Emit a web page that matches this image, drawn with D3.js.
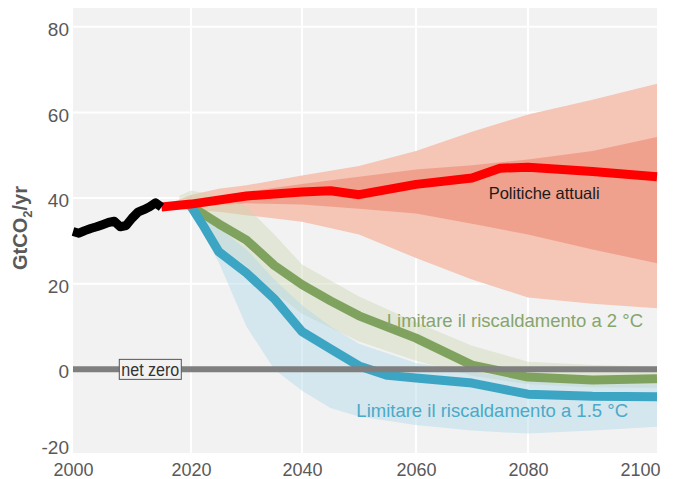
<!DOCTYPE html>
<html>
<head>
<meta charset="utf-8">
<script src="https://cdn.jsdelivr.net/npm/d3@7"></script>
<style>
  body { margin: 0; background: #fff; }
  svg { font-family: "Liberation Sans", Arial, sans-serif; }
</style>
</head>
<body>
<svg id="svg" width="680" height="479"></svg>
<script>
// Emissions pathways (GtCO2/yr)

// historical emissions
var histYears = [2000, 2001, 2002, 2003, 2004, 2005, 2006, 2007, 2008, 2009, 2010, 2011, 2012, 2013, 2014, 2015];
var histValues = [32.2, 31.8, 32.4, 32.9, 33.3, 33.8, 34.3, 34.6, 33.3, 33.6, 35.3, 36.7, 37.3, 38.0, 38.9, 37.9];

// current policies
var policyYears = [2015, 2020, 2030, 2040, 2045, 2050, 2060, 2070, 2075, 2080, 2090, 2100];
var policyValues = [37.9, 38.6, 40.5, 41.4, 41.7, 40.8, 43.2, 44.7, 47.0, 47.2, 46.2, 45.0];

var policyBandYears = [2015, 2020, 2025, 2030, 2040, 2050, 2060, 2070, 2080, 2090, 2100];
var policyOuterHigh = [38.0, 40.7, 42.2, 43.0, 45.3, 47.5, 51.0, 55.5, 59.5, 63.0, 66.7];
var policyOuterLow = [37.8, 37.2, 36.8, 36.0, 34.5, 31.5, 26.0, 21.0, 16.8, 15.3, 14.3];
var policyInnerHigh = [38.0, 39.5, 40.3, 41.5, 43.3, 45.0, 46.7, 47.7, 49.0, 51.0, 54.3];
var policyInnerLow = [37.8, 38.0, 38.3, 38.8, 38.5, 37.5, 36.4, 34.0, 31.5, 28.0, 24.8];

// 2 °C pathway
var twoYears = [2020, 2025, 2030, 2035, 2040, 2045, 2050, 2060, 2070, 2080, 2090, 2100];
var twoValues = [38.1, 34.0, 30.2, 24.3, 19.8, 16.0, 12.5, 7.3, 1.0, -1.8, -2.5, -2.2];
var twoBandYears = [2018, 2020, 2025, 2030, 2035, 2040, 2050, 2060, 2070, 2080, 2090, 2100];
var twoHigh = [40.5, 41.8, 40.5, 38.0, 31.5, 24.5, 17.0, 11.0, 5.5, 1.8, 1.0, 0.6];
var twoLow = [39.0, 36.5, 29.0, 24.0, 18.0, 13.0, 6.5, 2.0, -1.5, -3.5, -4.2, -4.3];

// 1.5 °C pathway
var oneFiveYears = [2020, 2022, 2025, 2030, 2035, 2040, 2045, 2050, 2055, 2060, 2070, 2075, 2080, 2090, 2100];
var oneFiveValues = [38.1, 34.0, 27.5, 22.5, 16.5, 8.8, 4.8, 0.8, -1.4, -2.0, -3.2, -4.5, -5.8, -6.3, -6.4];
var oneFiveBandYears = [2018, 2020, 2025, 2030, 2035, 2040, 2045, 2050, 2060, 2070, 2080, 2090, 2100];
var oneFiveHigh = [39.0, 39.5, 33.0, 28.0, 21.0, 15.0, 10.0, 6.0, 1.5, -0.5, -2.5, -3.5, -3.5];
var oneFiveLow = [38.0, 37.0, 25.0, 10.0, 0.0, -5.0, -9.0, -11.0, -13.0, -14.3, -15.0, -14.3, -13.4];

var xTicks = [2000, 2020, 2040, 2060, 2080, 2100];
var yTicks = [-20, 0, 20, 40, 60, 80];

var svg = d3.select("svg");

// panel bounds
var plotLeft = 73, plotRight = 657, plotTop = 8, plotBottom = 453;

// the source picture has slightly uneven year spacing, so use a piecewise scale
var x = d3.scaleLinear()
    .domain(xTicks)
    .range([73, 191, 302, 416, 528, 657]);

var y = d3.scaleLinear()
    .domain([-20, 84.4])
    .range([455, plotTop]);

function zip(xs, ys) {
    return xs.map(function (d, i) { return [d, ys[i]]; });
}
function band(xs, hi, lo) {
    return xs.map(function (d, i) { return [d, hi[i], lo[i]]; });
}

var line = d3.line()
    .x(function (d) { return x(d[0]); })
    .y(function (d) { return y(d[1]); });

var area = d3.area()
    .x(function (d) { return x(d[0]); })
    .y0(function (d) { return y(d[2]); })
    .y1(function (d) { return y(d[1]); });

// background + grid
svg.append("rect")
    .attr("x", plotLeft).attr("y", plotTop)
    .attr("width", plotRight - plotLeft).attr("height", plotBottom - plotTop)
    .attr("fill", "#f2f2f2");

var grid = svg.append("g");
grid.selectAll(".gx").data([2020, 2040, 2060, 2080]).enter().append("line")
    .attr("x1", function (d) { return x(d); }).attr("x2", function (d) { return x(d); })
    .attr("y1", plotTop).attr("y2", plotBottom)
    .attr("stroke", "#fff").attr("stroke-width", 2);
grid.selectAll(".gy").data([20, 40, 60, 80]).enter().append("line")
    .attr("x1", plotLeft).attr("x2", plotRight)
    .attr("y1", function (d) { return y(d); }).attr("y2", function (d) { return y(d); })
    .attr("stroke", "#fff").attr("stroke-width", 2);

// ranges
svg.append("path").datum(band(policyBandYears, policyOuterHigh, policyOuterLow))
    .attr("d", area).attr("fill", "#f5c5b6");
svg.append("path").datum(band(policyBandYears, policyInnerHigh, policyInnerLow))
    .attr("d", area).attr("fill", "#f0a18d");
svg.append("path").datum(band(twoBandYears, twoHigh, twoLow))
    .attr("d", area).attr("fill", "rgb(205,214,180)").attr("fill-opacity", 0.45);
svg.append("path").datum(band(oneFiveBandYears, oneFiveHigh, oneFiveLow))
    .attr("d", area).attr("fill", "rgb(175,215,232)").attr("fill-opacity", 0.45);

// pathway lines
function drawLine(data, colour) {
    svg.append("path").datum(data)
        .attr("d", line)
        .attr("fill", "none")
        .attr("stroke", colour)
        .attr("stroke-width", 9)
        .attr("stroke-linejoin", "round");
}
drawLine(zip(twoYears, twoValues), "#7fa35f");
drawLine(zip(oneFiveYears, oneFiveValues), "#3ca5c3");
drawLine(zip(policyYears, policyValues), "#ff0000");
drawLine(zip(histYears, histValues), "#000000");

// net zero
svg.append("line")
    .attr("x1", plotLeft).attr("x2", plotRight)
    .attr("y1", y(0)).attr("y2", y(0))
    .attr("stroke", "#7f7f7f").attr("stroke-width", 6);

var nz = svg.append("g").attr("transform", "translate(" + x(2013.1) + "," + y(0) + ")");
nz.append("rect")
    .attr("x", -31).attr("y", -10).attr("width", 62).attr("height", 20)
    .attr("fill", "#f2f2f2").attr("stroke", "#555").attr("stroke-width", 1);
nz.append("text")
    .attr("text-anchor", "middle").attr("dy", "0.35em")
    .attr("font-size", 18).attr("fill", "#333")
    .attr("textLength", 58).attr("lengthAdjust", "spacingAndGlyphs")
    .text("net zero");

// labels
svg.append("text")
    .attr("x", x(2082.5)).attr("y", y(41.2)).attr("dy", "0.35em")
    .attr("text-anchor", "middle").attr("font-size", 16.5).attr("fill", "#1a1a1a")
    .text("Politiche attuali");
svg.append("text")
    .attr("x", plotRight - 14).attr("y", y(11.4)).attr("dy", "0.35em")
    .attr("text-anchor", "end").attr("font-size", 18.5).attr("fill", "#86a56b")
    .text("Limitare il riscaldamento a 2 °C");
svg.append("text")
    .attr("x", plotRight - 29).attr("y", y(-9.7)).attr("dy", "0.35em")
    .attr("text-anchor", "end").attr("font-size", 18.5).attr("fill", "#4aaac8")
    .text("Limitare il riscaldamento a 1.5 °C");

// axes
var xAxis = svg.append("g")
    .attr("transform", "translate(0," + (plotBottom + 7) + ")")
    .call(d3.axisBottom(x).tickValues(xTicks).tickFormat(function (d) { return String(d); }).tickSize(0));
var yAxis = svg.append("g")
    .attr("transform", "translate(" + (plotLeft - 1) + ",0)")
    .call(d3.axisLeft(y).tickValues(yTicks).tickFormat(function (d) { return String(d); }).tickSize(0));
[xAxis, yAxis].forEach(function (g) {
    g.select(".domain").remove();
    g.selectAll("text")
        .attr("font-family", "Liberation Sans, Arial, sans-serif")
        .attr("font-size", 18).attr("fill", "#595959");
});
yAxis.selectAll("text").attr("font-size", 19).attr("dy", "0.45em");
// keep the edge labels inside the page
yAxis.selectAll("text").filter(function (d) { return d === -20; }).attr("dy", "-0.1em");
xAxis.selectAll("text").filter(function (d) { return d === 2100; })
    .attr("text-anchor", "end").attr("dx", "3");

var yLabel = svg.append("text")
    .attr("transform", "translate(27,228) rotate(-90)")
    .attr("text-anchor", "middle").attr("font-size", 20).attr("font-weight", "bold").attr("fill", "#595959");
yLabel.append("tspan").text("GtCO");
yLabel.append("tspan").attr("font-size", 13).attr("dy", 5).text("2");
yLabel.append("tspan").attr("dy", -5).text("/yr");
</script>
</body>
</html>
